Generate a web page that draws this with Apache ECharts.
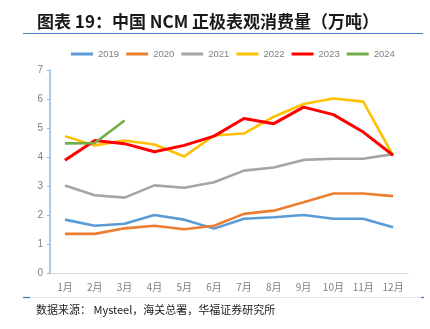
<!DOCTYPE html>
<html>
<head>
<meta charset="utf-8">
<script src="https://cdn.jsdelivr.net/npm/echarts@6/dist/echarts.min.js"></script>
<style>html,body{margin:0;padding:0;background:#fff}#c{width:430px;height:329px}</style>
</head>
<body>
<div id="c"></div>
<script>
var months = ['1月','2月','3月','4月','5月','6月','7月','8月','9月','10月','11月','12月'];
var s2019 = [1.84,1.63,1.70,2.00,1.84,1.53,1.87,1.92,2.00,1.87,1.87,1.58];
var s2020 = [1.35,1.35,1.54,1.63,1.51,1.63,2.04,2.15,2.44,2.74,2.74,2.65];
var s2021 = [3.02,2.68,2.60,3.02,2.94,3.13,3.53,3.64,3.90,3.94,3.94,4.10];
var s2022 = [4.72,4.40,4.57,4.43,4.02,4.74,4.81,5.39,5.83,6.02,5.91,4.05];
var s2023 = [3.89,4.57,4.46,4.18,4.40,4.72,5.33,5.15,5.72,5.46,4.86,4.06];
var s2024 = [4.47,4.48,5.26];
var seriesNames = ['2019','2020','2021','2022','2023','2024'];
var seriesData = [s2019,s2020,s2021,s2022,s2023,s2024];
var colors = ['#5B9BD5','#ED7D31','#A5A5A5','#FFC000','#FF0000','#70AD47'];

var chart = echarts.init(document.getElementById('c'), null, {renderer:'canvas'});
var series = seriesNames.map(function(n,i){
  return {name:n,type:'line',data:seriesData[i],symbol:'none',smooth:false,
    lineStyle:{width:i===4?3:2.6,color:colors[i]},itemStyle:{color:colors[i]},z:i+2};
});
chart.setOption({
  animation:false,
  title:[
    {text:'图表 19：中国 NCM 正极表观消费量（万吨）',left:32,top:8,
     textStyle:{fontFamily:'Noto Sans CJK SC',fontSize:17,fontWeight:'bold',color:'#1a1a1a'}},
    {text:'数据来源： Mysteel，海关总署，华福证券研究所',left:31,top:299,
     textStyle:{fontFamily:'Noto Sans CJK SC',fontSize:11,fontWeight:'normal',color:'#222'}}
  ],
  legend:{left:66,top:44,itemWidth:22,itemHeight:3,itemGap:7,icon:'rect',
    textStyle:{fontSize:9.5,color:'#7f7f7f',fontFamily:'Liberation Sans'},
    data:seriesNames},
  grid:{left:50,right:22,top:70,bottom:56,containLabel:false},
  xAxis:{type:'category',data:months,boundaryGap:true,
    axisLine:{lineStyle:{color:'#d9d9d9',width:1}},axisTick:{show:false},
    axisLabel:{color:'#7f7f7f',fontSize:10,margin:9,fontFamily:'Noto Sans CJK SC'}},
  yAxis:{type:'value',min:0,max:7,interval:1,
    axisLine:{show:true,lineStyle:{color:'#8DB8E6',width:1.5}},
    axisTick:{show:true,length:3,lineStyle:{color:'#8DB8E6'}},
    splitLine:{show:false},
    axisLabel:{color:'#7f7f7f',fontSize:10,margin:7,fontFamily:'Liberation Sans'}},
  series:series,
  graphic:[
    {type:'line',shape:{x1:23,y1:33.5,x2:423,y2:33.5},style:{stroke:'#4F7FC6',lineWidth:1.2}},
    {type:'line',shape:{x1:23,y1:297.5,x2:423,y2:297.5},style:{stroke:'#DDE3EE',lineWidth:1}},
    {type:'line',shape:{x1:23,y1:297.5,x2:30,y2:297.5},style:{stroke:'#4472C4',lineWidth:1.2}},
    {type:'line',shape:{x1:421,y1:297.5,x2:424,y2:297.5},style:{stroke:'#4472C4',lineWidth:1.2}}
  ]
});
</script>
</body>
</html>
